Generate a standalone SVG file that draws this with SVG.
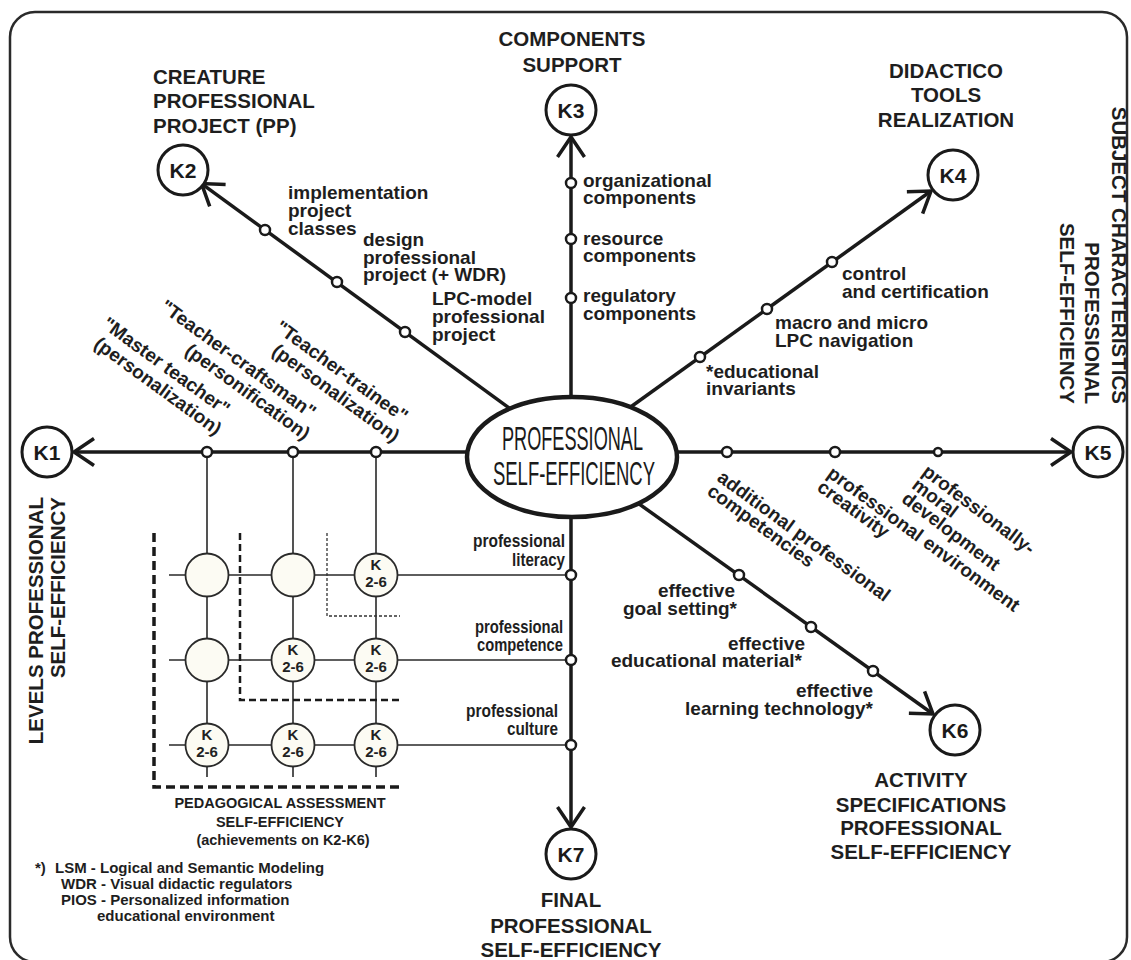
<svg xmlns="http://www.w3.org/2000/svg" width="1131" height="960" viewBox="0 0 1131 960">
<defs>
<style>
.ax{stroke:#1a1a1a;stroke-width:3.5;fill:none}
.thin{stroke:#2a2a2a;stroke-width:1.6;fill:none}
.kc{fill:#fff;stroke:#1a1a1a;stroke-width:3}
.kt{font:bold 21px "Liberation Sans",Arial,sans-serif;text-anchor:middle;fill:#1a1a1a}
.dot{fill:#fff;stroke:#1a1a1a;stroke-width:2.5}
.gc{fill:#fcfbf3;stroke:#2a2a2a;stroke-width:1.8}
.gt{font:bold 15px "Liberation Sans",Arial,sans-serif;text-anchor:middle;fill:#222}
.lb{font:bold 19px "Liberation Sans",Arial,sans-serif;fill:#1e1e1e}
.ti{font:bold 20.5px "Liberation Sans",Arial,sans-serif;fill:#1e1e1e}
.cap{font:bold 14.5px "Liberation Sans",Arial,sans-serif;fill:#1e1e1e;text-anchor:middle}
.ft{font:bold 15px "Liberation Sans",Arial,sans-serif;fill:#1e1e1e}
.el{font:34px "Liberation Sans",Arial,sans-serif;fill:#1a1a1a}
</style>
<marker id="ah" markerUnits="userSpaceOnUse" orient="auto" refX="0" refY="0" markerWidth="30" markerHeight="36" viewBox="-25 -18 30 36" overflow="visible">
<path d="M-20,-13.5 L0,0 L-20,13.5" fill="none" stroke="#1a1a1a" stroke-width="3.5"/>
</marker>
</defs>
<rect x="0" y="0" width="1131" height="960" fill="#fff"/>
<rect x="10" y="12" width="1117" height="950" rx="25" fill="none" stroke="#2a2a2a" stroke-width="2.5"/>

<g id="connectors">
<path class="ax" d="M572,452 L74,452" marker-end="url(#ah)"/>
<path class="ax" d="M572,452 L1071,452" marker-end="url(#ah)"/>
<path class="ax" d="M571,457 L571,137" marker-end="url(#ah)"/>
<path class="ax" d="M571,457 L571,827" marker-end="url(#ah)"/>
<path class="ax" d="M540,430.5 L201.5,183.6" marker-end="url(#ah)"/>
<path class="ax" d="M600,429 L931,191" marker-end="url(#ah)"/>
<path class="ax" d="M600,476 L933,714" marker-end="url(#ah)"/>
<path class="thin" d="M207,452 V777 M293,452 V777 M376,452 V777 M169,575 H571 M169,660 H571 M169,745 H571"/>
<path d="M154,533 V787 H400" fill="none" stroke="#1a1a1a" stroke-width="3.5" stroke-dasharray="9 5"/>
<path d="M240,533 V700 H400" fill="none" stroke="#1a1a1a" stroke-width="2.5" stroke-dasharray="7 4"/>
<path d="M327,533 V616 H400" fill="none" stroke="#333" stroke-width="1.3" stroke-dasharray="3 2"/>
</g>

<g id="center">
<ellipse cx="572" cy="457" rx="105" ry="60" fill="#fff" stroke="#1a1a1a" stroke-width="4.5"/>
<text class="el" x="502" y="450" textLength="141" lengthAdjust="spacingAndGlyphs">PROFESSIONAL</text>
<text class="el" x="493" y="485" textLength="162" lengthAdjust="spacingAndGlyphs">SELF-EFFICIENCY</text>
</g>

<g id="K1"><circle class="kc" cx="47" cy="452" r="25"/><text class="kt" x="47" y="459.5">K1</text>
<g transform="translate(43,497) rotate(-90)"><text class="ti" text-anchor="end"><tspan x="0" y="0">LEVELS PROFESSIONAL</tspan><tspan x="0" y="22">SELF-EFFICIENCY</tspan></text></g></g>

<g id="K2"><circle class="kc" cx="183" cy="170" r="25"/><text class="kt" x="183" y="177.5">K2</text>
<text class="ti"><tspan x="153" y="84">CREATURE</tspan><tspan x="153" y="108">PROFESSIONAL</tspan><tspan x="153" y="133">PROJECT (PP)</tspan></text></g>

<g id="K3"><circle class="kc" cx="571" cy="110" r="25"/><text class="kt" x="571" y="117.5">K3</text>
<text class="ti" text-anchor="middle"><tspan x="572" y="46">COMPONENTS</tspan><tspan x="572" y="72">SUPPORT</tspan></text></g>

<g id="K4"><circle class="kc" cx="953" cy="175" r="25"/><text class="kt" x="953" y="182.5">K4</text>
<text class="ti" text-anchor="middle"><tspan x="946" y="78">DIDACTICO</tspan><tspan x="946" y="102">TOOLS</tspan><tspan x="946" y="127">REALIZATION</tspan></text></g>

<g id="K5"><circle class="kc" cx="1098" cy="452" r="25"/><text class="kt" x="1098" y="459.5">K5</text>
<g transform="translate(1112,404) rotate(90)"><text class="ti" text-anchor="end"><tspan x="0" y="0">SUBJECT CHARACTERISTICS</tspan><tspan x="0" y="27">PROFESSIONAL</tspan><tspan x="0" y="52">SELF-EFFICIENCY</tspan></text></g></g>

<g id="K6"><circle class="kc" cx="955" cy="730" r="25"/><text class="kt" x="955" y="737.5">K6</text>
<text class="ti" text-anchor="middle"><tspan x="921" y="787">ACTIVITY</tspan><tspan x="921" y="812">SPECIFICATIONS</tspan><tspan x="921" y="835">PROFESSIONAL</tspan><tspan x="921" y="859">SELF-EFFICIENCY</tspan></text></g>

<g id="K7"><circle class="kc" cx="571" cy="854" r="25"/><text class="kt" x="571" y="861.5">K7</text>
<text class="ti" text-anchor="middle"><tspan x="571" y="907">FINAL</tspan><tspan x="571" y="933">PROFESSIONAL</tspan><tspan x="571" y="957">SELF-EFFICIENCY</tspan></text></g>

<g id="axis-points">
<circle class="dot" cx="265" cy="230" r="5"/><circle class="dot" cx="337" cy="282" r="5"/><circle class="dot" cx="405" cy="332" r="5"/>
<circle class="dot" cx="571" cy="183" r="5"/><circle class="dot" cx="571" cy="239" r="5"/><circle class="dot" cx="571" cy="298" r="5"/>
<circle class="dot" cx="832" cy="262" r="5"/><circle class="dot" cx="767" cy="309" r="5"/><circle class="dot" cx="700" cy="357" r="5"/>
<circle class="dot" cx="727" cy="452" r="5"/><circle class="dot" cx="835" cy="452" r="5"/><circle class="dot" cx="938" cy="452" r="4"/>
<circle class="dot" cx="739" cy="575" r="5"/><circle class="dot" cx="811" cy="627" r="5"/><circle class="dot" cx="873" cy="671" r="5"/>
<circle class="dot" cx="207" cy="452" r="5"/><circle class="dot" cx="293" cy="452" r="5"/><circle class="dot" cx="376" cy="452" r="5"/>
<circle class="dot" cx="571" cy="575" r="5"/><circle class="dot" cx="571" cy="660" r="5"/><circle class="dot" cx="571" cy="745" r="5"/>
</g>

<g id="grid">
<circle class="gc" cx="207" cy="575" r="21.5"/><circle class="gc" cx="293" cy="575" r="21.5"/><circle class="gc" cx="376" cy="575" r="21.5"/>
<circle class="gc" cx="207" cy="660" r="21.5"/><circle class="gc" cx="293" cy="660" r="21.5"/><circle class="gc" cx="376" cy="660" r="21.5"/>
<circle class="gc" cx="207" cy="745" r="21.5"/><circle class="gc" cx="293" cy="745" r="21.5"/><circle class="gc" cx="376" cy="745" r="21.5"/>
<text class="gt"><tspan x="376" y="570">K</tspan><tspan x="376" y="587">2-6</tspan></text>
<text class="gt"><tspan x="293" y="655">K</tspan><tspan x="293" y="672">2-6</tspan></text>
<text class="gt"><tspan x="376" y="655">K</tspan><tspan x="376" y="672">2-6</tspan></text>
<text class="gt"><tspan x="207" y="740">K</tspan><tspan x="207" y="757">2-6</tspan></text>
<text class="gt"><tspan x="293" y="740">K</tspan><tspan x="293" y="757">2-6</tspan></text>
<text class="gt"><tspan x="376" y="740">K</tspan><tspan x="376" y="757">2-6</tspan></text>
<text class="cap"><tspan x="280" y="808">PEDAGOGICAL ASSESSMENT</tspan><tspan x="280" y="827">SELF-EFFICIENCY</tspan><tspan x="283" y="845">(achievements on K2-K6)</tspan></text>
</g>

<g id="labels">
<text class="lb"><tspan x="288" y="199">implementation</tspan><tspan x="288" y="217">project</tspan><tspan x="288" y="235">classes</tspan></text>
<text class="lb"><tspan x="363" y="246">design</tspan><tspan x="363" y="264">professional</tspan><tspan x="363" y="281">project (+ WDR)</tspan></text>
<text class="lb"><tspan x="432" y="305">LPC-model</tspan><tspan x="432" y="323">professional</tspan><tspan x="432" y="341">project</tspan></text>
<text class="lb"><tspan x="583" y="187">organizational</tspan><tspan x="583" y="204">components</tspan></text>
<text class="lb"><tspan x="583" y="245">resource</tspan><tspan x="583" y="262">components</tspan></text>
<text class="lb"><tspan x="583" y="302">regulatory</tspan><tspan x="583" y="320">components</tspan></text>
<text class="lb"><tspan x="842" y="280">control</tspan><tspan x="842" y="298">and certification</tspan></text>
<text class="lb"><tspan x="775" y="329">macro and micro</tspan><tspan x="775" y="347">LPC navigation</tspan></text>
<text class="lb"><tspan x="706" y="378">*educational</tspan><tspan x="706" y="395">invariants</tspan></text>
<g transform="translate(716,480) rotate(36)"><text class="lb"><tspan x="0" y="0">additional professional</tspan><tspan x="0" y="17">competencies</tspan></text></g>
<g transform="translate(826,476) rotate(36)"><text class="lb"><tspan x="0" y="0">professional environment</tspan><tspan x="0" y="17">creativity</tspan></text></g>
<g transform="translate(921,474) rotate(37)"><text class="lb"><tspan x="0" y="0">professionally-</tspan><tspan x="0" y="17">moral</tspan><tspan x="0" y="34">development</tspan></text></g>
<text class="lb" text-anchor="end"><tspan x="735" y="597">effective</tspan><tspan x="737" y="615">goal setting*</tspan></text>
<text class="lb" text-anchor="end"><tspan x="805" y="650">effective</tspan><tspan x="802" y="667">educational material*</tspan></text>
<text class="lb" text-anchor="end"><tspan x="873" y="697">effective</tspan><tspan x="873" y="715">learning technology*</tspan></text>
<text class="lb"><tspan x="473" y="547" textLength="92" lengthAdjust="spacingAndGlyphs">professional</tspan><tspan x="512" y="566" textLength="53" lengthAdjust="spacingAndGlyphs">literacy</tspan></text>
<text class="lb"><tspan x="475" y="633" textLength="88" lengthAdjust="spacingAndGlyphs">professional</tspan><tspan x="477" y="651" textLength="86" lengthAdjust="spacingAndGlyphs">competence</tspan></text>
<text class="lb"><tspan x="466" y="717" textLength="92" lengthAdjust="spacingAndGlyphs">professional</tspan><tspan x="507" y="735" textLength="51" lengthAdjust="spacingAndGlyphs">culture</tspan></text>
<g transform="translate(224,416) rotate(36)"><text class="lb" text-anchor="end"><tspan x="0" y="0">"Master teacher"</tspan><tspan x="5" y="21">(personalization)</tspan></text></g>
<g transform="translate(310,419) rotate(36)"><text class="lb" text-anchor="end"><tspan x="0" y="0">"Teacher-craftsman"</tspan><tspan x="8" y="21">(personification)</tspan></text></g>
<g transform="translate(402,423) rotate(36)"><text class="lb" text-anchor="end"><tspan x="0" y="0">"Teacher-trainee"</tspan><tspan x="5" y="21">(personalization)</tspan></text></g>
<text class="ft"><tspan x="35" y="873">*)</tspan><tspan x="55" y="873">LSM - Logical and Semantic Modeling</tspan><tspan x="61" y="889">WDR - Visual didactic regulators</tspan><tspan x="61" y="905">PIOS - Personalized information</tspan><tspan x="97" y="921">educational environment</tspan></text>
</g>
</svg>
